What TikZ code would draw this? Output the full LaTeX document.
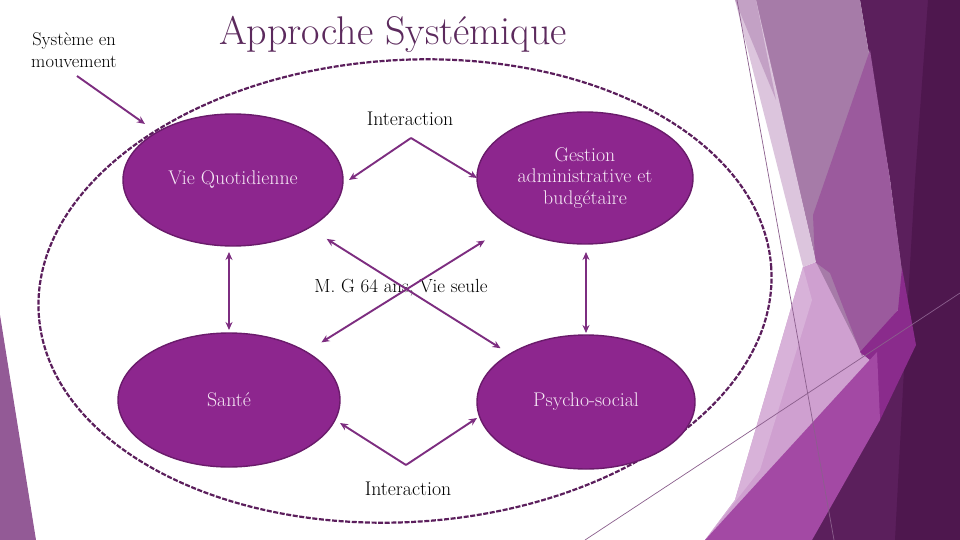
\documentclass[tikz,border=0pt]{standalone}
\usepackage{fontspec}
\usetikzlibrary{shapes.geometric,arrows.meta,calc}
\definecolor{blobfill}{HTML}{8D268E}
\definecolor{blobline}{HTML}{6A1B6B}
\definecolor{blobtext}{HTML}{F6E9F6}
\definecolor{arrcol}{HTML}{7D2D80}
\definecolor{dashcol}{HTML}{5B1E5C}
\definecolor{titlecol}{HTML}{5C2A5D}
\definecolor{thincol}{HTML}{8B5F8D}
\newcommand{\labfont}{\fontsize{19.8}{21.5}\selectfont}
\newcommand{\midfont}{\fontsize{19}{21.5}\selectfont}
\newcommand{\sysfont}{\fontsize{18.5}{22}\selectfont}
\begin{document}
\begin{tikzpicture}[x=1pt,y=-1pt,
  blob/.style={ellipse, draw=blobline, line width=1.4pt, fill=blobfill, inner sep=0pt, outer sep=0pt,
    text=blobtext, font=\labfont, align=center},
  lbl/.style={font=\labfont, text=black, align=center, inner sep=0pt},
  arr/.style={draw=arrcol, line width=1.9pt, -{Stealth[length=8pt,width=7pt]}},
  dbl/.style={draw=arrcol, line width=1.9pt, {Stealth[length=8pt,width=7pt]}-{Stealth[length=8pt,width=7pt]}},
  facet/.style={draw=none}
]
\useasboundingbox (0,0) rectangle (960,540);
\fill[white] (0,0) rectangle (960,540);
% decoration
\fill[facet, fill={rgb,255:red,147;green,90;blue,150}] (0,315) -- (36,540) -- (0,540) -- cycle;
\fill[facet, fill={rgb,255:red,91;green,31;blue,92}] (860,0) -- (960,0) -- (960,540) -- (790,540) -- (860,380) -- (905,300) -- (890,180) -- cycle;
\fill[facet, fill={rgb,255:red,78;green,23;blue,78}] (928,0) -- (960,0) -- (960,540) -- (895,540) -- (905,350) -- (915,180) -- cycle;
% pink base (under the others)
\fill[facet, fill={rgb,255:red,207;green,160;blue,208}] (803,267) -- (816,262) -- (900,300) -- (905,330) -- (880,352) -- (705,540) -- (735,500) -- cycle;
\fill[facet, fill={rgb,255:red,216;green,178;blue,217}] (803,267) -- (812,300) -- (760,470) -- (705,540) -- (735,500) -- cycle;
\fill[facet, fill={rgb,255:red,166;green,123;blue,168}] (755,0) -- (860,0) -- (890,180) -- (903,280) -- (860,350) -- (816,262) -- cycle;
\fill[facet, fill={rgb,255:red,155;green,90;blue,157}] (870,50) -- (890,180) -- (903,280) -- (900,307) -- (862,356) -- (830,273) -- (815,262) -- (813,215) -- cycle;
\fill[facet, fill={rgb,255:red,220;green,197;blue,221}] (735,0) -- (756,0) -- (816,262) -- (803,267) -- cycle;
\fill[facet, fill={rgb,255:red,195;green,161;blue,197}] (735,0) -- (756,0) -- (776,100) -- cycle;
\fill[facet, fill={rgb,255:red,138;green,43;blue,140}] (902,268) -- (916,345) -- (880,420) -- (870,360) -- (860,352) -- (898,310) -- cycle;
\fill[facet, fill={rgb,255:red,163;green,73;blue,164}] (705,540) -- (877,352) -- (880,420) -- (812,540) -- cycle;
\draw[thincol, line width=0.7pt] (737,0) -- (834,540);
\draw[thincol, line width=0.7pt] (585,540) -- (960,293);
% big dashed ellipse
\node[ellipse, draw=dashcol, line width=2.2pt, dash pattern=on 5pt off 1.6pt, minimum width=734pt, minimum height=462pt, inner sep=0pt, rotate=3.6] (sysell) at (405,291) {};
% title and texts
\node[font=\fontsize{40}{44}\selectfont, text=titlecol, inner sep=0pt] (title) at (393,34) {Approche Systémique};
\node[lbl, font=\sysfont] (sys) at (74,50) {Système en\\mouvement};
\node[lbl] (inttop) at (410,119) {Interaction};
\node[lbl, font=\midfont] (mg) at (401,288) {M. G 64 ans, Vie seule};
\node[lbl] (intbot) at (408,489) {Interaction};
% ellipses
\node[blob, minimum width=220pt, minimum height=132pt] (vq) at (233,180) {Vie Quotidienne};
\node[blob, minimum width=216pt, minimum height=132pt] (gest) at (585,178) {Gestion\\administrative et\\budgétaire};
\node[blob, minimum width=222pt, minimum height=134pt] (sante) at (229,400) {Santé};
\node[blob, minimum width=218pt, minimum height=134pt] (psy) at (586,402) {Psycho-social};
% connectors
\coordinate (itop) at (411,138);
\coordinate (ibot) at (406,465);
\coordinate (stip) at (340,423);
\coordinate (ptip) at (477,418);
\coordinate (sysA) at (77,76);
\coordinate (sysB) at (145,124);
\draw[arr] (itop) -- ([xshift=6pt]vq.east);
\draw[arr] (itop) -- (gest.west);
\draw[arr] (ibot) -- (stip);
\draw[arr] (ibot) -- (ptip);
\draw[dbl, shorten <=6pt, shorten >=3pt] (sante.north |- vq.south) -- (sante.north);
\draw[dbl, shorten <=8pt, shorten >=2pt] (psy.north |- gest.south) -- (psy.north);
\draw[dbl, shorten <=21pt, shorten >=11pt] (vq) -- (psy);
\draw[dbl, shorten <=29pt, shorten >=18pt] (gest) -- (sante);
\draw[arr] (sysA) -- (sysB);
\end{tikzpicture}
\end{document}
